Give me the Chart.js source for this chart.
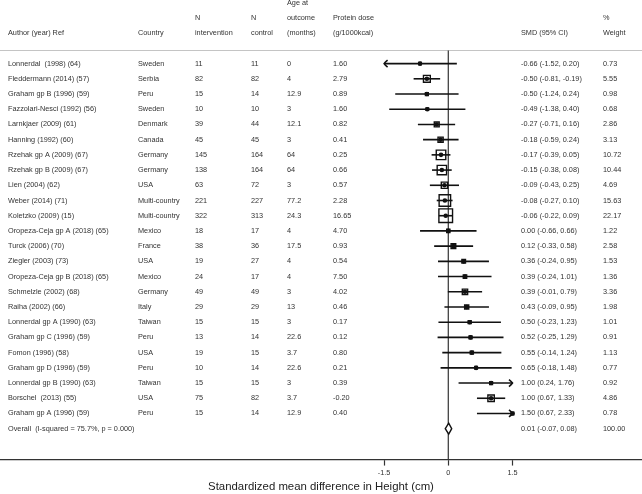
<!DOCTYPE html>
<html>
<head>
<meta charset="utf-8">
<script src="https://cdn.jsdelivr.net/npm/chart.js@4.4.1/dist/chart.umd.min.js"></script>
<style>
  html,body{margin:0;padding:0;background:#fff;}
  #wrap{width:642px;height:494px;}
</style>
</head>
<body>
<div id="wrap"><canvas id="forest" width="642" height="494"></canvas></div>
<script>
// study rows, top to bottom
const authors = [
  'Lonnerdal  (1998) (64)', 'Fleddermann (2014) (57)', 'Graham gp B (1996) (59)',
  'Fazzolari-Nesci (1992) (56)', 'Larnkjaer (2009) (61)', 'Hanning (1992) (60)',
  'Rzehak gp A (2009) (67)', 'Rzehak gp B (2009) (67)', 'Lien (2004) (62)',
  'Weber (2014) (71)', 'Koletzko (2009) (15)', 'Oropeza-Ceja gp A (2018) (65)',
  'Turck (2006) (70)', 'Ziegler (2003) (73)', 'Oropeza-Ceja gp B (2018) (65)',
  'Schmelzle (2002) (68)', 'Raiha (2002) (66)', 'Lonnerdal gp A (1990) (63)',
  'Graham gp C (1996) (59)', 'Fomon (1996) (58)', 'Graham gp D (1996) (59)',
  'Lonnerdal gp B (1990) (63)', 'Borschel  (2013) (55)', 'Graham gp A (1996) (59)'
];
const countries = ['Sweden','Serbia','Peru','Sweden','Denmark','Canada','Germany','Germany','USA',
  'Multi-country','Multi-country','Mexico','France','USA','Mexico','Germany','Italy','Taiwan',
  'Peru','USA','Peru','Taiwan','USA','Peru'];
const nInt  = [11,82,15,10,39,45,145,138,63,221,322,18,38,19,24,49,29,15,13,19,10,15,75,15];
const nCtrl = [11,82,14,10,44,45,164,164,72,227,313,17,36,27,17,49,29,15,14,15,14,15,82,14];
const ageMonths = ['0','4','12.9','3','12.1','3','64','64','3','77.2','24.3','4','17.5','4','4','3',
  '13','3','22.6','3.7','22.6','3','3.7','12.9'];
const proteinDose = ['1.60','2.79','0.89','1.60','0.82','0.41','0.25','0.66','0.57','2.28','16.65','4.70',
  '0.93','0.54','7.50','4.02','0.46','0.17','0.12','0.80','0.21','0.39','-0.20','0.40'];
const smd = [-0.66,-0.50,-0.50,-0.49,-0.27,-0.18,-0.17,-0.15,-0.09,-0.08,-0.06,0.00,
  0.12,0.36,0.39,0.39,0.43,0.50,0.52,0.55,0.65,1.00,1.00,1.50];
const ciLow = [-1.52,-0.81,-1.24,-1.38,-0.71,-0.59,-0.39,-0.38,-0.43,-0.27,-0.22,-0.66,
  -0.33,-0.24,-0.24,-0.01,-0.09,-0.23,-0.25,-0.14,-0.18,0.24,0.67,0.67];
const ciHigh = [0.20,-0.19,0.24,0.40,0.16,0.24,0.05,0.08,0.25,0.10,0.09,0.66,
  0.58,0.95,1.01,0.79,0.95,1.23,1.29,1.24,1.48,1.76,1.33,2.33];
const weights = [0.73,5.55,0.98,0.68,2.86,3.13,10.72,10.44,4.69,15.63,22.17,1.22,
  2.58,1.53,1.36,3.36,1.98,1.01,0.91,1.13,0.77,0.92,4.86,0.78];

// pooled estimate
const overallLabel = 'Overall  (I-squared = 75.7%, p = 0.000)';
const overall = {est:0.01, lo:-0.07, hi:0.08, weight:100.00};

// axis
const tickVals = [-1.5, 0, 1.5];
const tickLabels = ['-1.5', '0', '1.5'];
const clipRange = [-1.5, 1.5];
const xTitle = 'Standardized mean difference in Height (cm)';

// header lines (row offset above first study)
const headers = [
  {col:'author',  lines:['', '', 'Author (year) Ref']},
  {col:'country', lines:['', '', 'Country']},
  {col:'nint',    lines:['', 'N', 'intervention']},
  {col:'nctrl',   lines:['', 'N', 'control']},
  {col:'age',     lines:['Age at', 'outcome', '(months)']},
  {col:'prot',    lines:['', 'Protein dose', '(g/1000kcal)']},
  {col:'smd',     lines:['', '', 'SMD (95% CI)']},
  {col:'wt',      lines:['', '%', 'Weight']},
];

// layout (pixels for text columns)
const colX = {author:8, country:138, nint:195, nctrl:251, age:287, prot:333, smd:521, wt:603};
const TXT = '#333';
const FONT = '7.3px "Liberation Sans", Arial, sans-serif';

const fmt = v => v.toFixed(2);
const rows = authors.map((a,i)=>({
  author:a, country:countries[i], nint:String(nInt[i]), nctrl:String(nCtrl[i]),
  age:ageMonths[i], prot:proteinDose[i],
  smd:`${fmt(smd[i])} (${fmt(ciLow[i])}, ${fmt(ciHigh[i])})`, wt:fmt(weights[i])
}));
const overallRow = authors.length;

const forestPlugin = {
  id:'forest',
  beforeDatasetsDraw(chart){
    const {ctx, scales:{x, y}, chartArea} = chart;
    ctx.save();
    // header separator
    ctx.strokeStyle = '#c4c4c4';
    ctx.lineWidth = 1;
    const ySep = Math.round(y.getPixelForValue(-0.9)) + 0.5;
    ctx.beginPath(); ctx.moveTo(0, ySep); ctx.lineTo(chart.width, ySep); ctx.stroke();
    // null line
    ctx.strokeStyle = '#333';
    ctx.lineWidth = 1.2;
    const x0 = x.getPixelForValue(0);
    ctx.beginPath(); ctx.moveTo(x0, ySep); ctx.lineTo(x0, chartArea.bottom); ctx.stroke();
    // confidence intervals
    ctx.strokeStyle = '#111';
    ctx.lineWidth = 1.6;
    smd.forEach((m,i)=>{
      const yy = y.getPixelForValue(i);
      const lo = Math.max(ciLow[i], clipRange[0]);
      const hi = Math.min(ciHigh[i], clipRange[1]);
      const xl = x.getPixelForValue(lo), xh = x.getPixelForValue(hi);
      ctx.beginPath(); ctx.moveTo(xl, yy); ctx.lineTo(xh, yy); ctx.stroke();
      const arrow = (xa, d)=>{
        ctx.beginPath();
        ctx.moveTo(xa - d*3.5, yy - 3.5);
        ctx.quadraticCurveTo(xa - d*1, yy - 1.5, xa, yy);
        ctx.quadraticCurveTo(xa - d*1, yy + 1.5, xa - d*3.5, yy + 3.5);
        ctx.stroke();
      };
      if (ciLow[i] < clipRange[0]) arrow(xl, -1);
      if (ciHigh[i] > clipRange[1]) arrow(xh, 1);
    });
    // overall diamond
    const yo = y.getPixelForValue(overallRow);
    ctx.fillStyle = '#fff';
    ctx.lineWidth = 1.4;
    ctx.beginPath();
    ctx.moveTo(x.getPixelForValue(overall.lo), yo);
    ctx.lineTo(x.getPixelForValue(overall.est), yo - 5.5);
    ctx.lineTo(x.getPixelForValue(overall.hi), yo);
    ctx.lineTo(x.getPixelForValue(overall.est), yo + 5.5);
    ctx.closePath(); ctx.fill(); ctx.stroke();
    ctx.restore();
  },
  afterDraw(chart){
    const {ctx, scales:{y}} = chart;
    ctx.save();
    ctx.font = FONT;
    ctx.fillStyle = TXT;
    ctx.textAlign = 'left';
    ctx.textBaseline = 'middle';
    headers.forEach(h=>{
      h.lines.forEach((t,k)=>{ if(t) ctx.fillText(t, colX[h.col], y.getPixelForValue(k - 4)); });
    });
    rows.forEach((r,i)=>{
      const yy = y.getPixelForValue(i);
      Object.keys(colX).forEach(c=> ctx.fillText(r[c], colX[c], yy));
    });
    const yo = y.getPixelForValue(overallRow);
    ctx.fillText(overallLabel, colX.author, yo);
    ctx.fillText(`${fmt(overall.est)} (${fmt(overall.lo)}, ${fmt(overall.hi)})`, colX.smd, yo);
    ctx.fillText(fmt(overall.weight), colX.wt, yo);
    ctx.restore();
  }
};

new Chart(document.getElementById('forest'), {
  type:'scatter',
  data:{
    datasets:[
      { // weight boxes
        data: smd.map((m,i)=>({x:m, y:i})),
        pointStyle:'rect',
        pointRadius: weights.map(w=>2.9*Math.sqrt(w)/Math.SQRT2),
        borderColor:'#111', backgroundColor:'rgba(0,0,0,0)', borderWidth:1.4
      },
      { // point estimates
        data: smd.map((m,i)=>({x:m, y:i})),
        pointStyle:'circle', pointRadius:2.3,
        borderColor:'#111', backgroundColor:'#111', borderWidth:0
      }
    ]
  },
  options:{
    responsive:false, animation:false, devicePixelRatio:1,
    layout:{padding:0, autoPadding:false},
    plugins:{legend:{display:false}, tooltip:{enabled:false}},
    scales:{
      x:{
        type:'linear', min:-10.474, max:4.526,
        afterBuildTicks: s=>{ s.ticks = tickVals.map(v=>({value:v})); },
        ticks:{
          autoSkip:false, maxRotation:0, padding:3, color:TXT,
          font:{family:'"Liberation Sans", Arial, sans-serif', size:7.3},
          callback:(v)=> tickLabels[tickVals.indexOf(v)]
        },
        grid:{drawOnChartArea:false, drawTicks:true, tickLength:6, color:'#333', tickWidth:1.2},
        border:{display:true, color:'#333', width:1.2},
        title:{display:true, text:xTitle, color:'#222', padding:{top:0, bottom:0},
          font:{family:'"Liberation Sans", Arial, sans-serif', size:11.4}}
      },
      y:{
        type:'linear', reverse:true, min:-4.18, max:26.03, display:false
      }
    }
  },
  plugins:[forestPlugin]
});
</script>
</body>
</html>
